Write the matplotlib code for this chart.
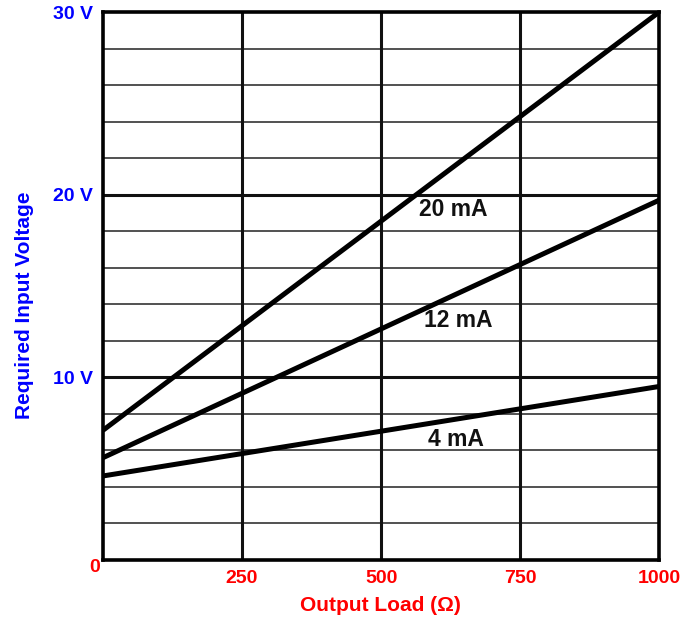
import numpy as np
import matplotlib
matplotlib.use("Agg")
import matplotlib.pyplot as plt

# ── data ─────────────────────────────────────────────────────────────────────
load_ohm = [0, 1000]
v_20ma = [7.1, 30.0]
v_12ma = [5.6, 19.7]
v_4ma = [4.6, 9.5]

curve_labels = ["20 mA", "12 mA", "4 mA"]
label_pos = [(629, 19.2), (638, 13.1), (635, 6.6)]

x_ticks = [250, 500, 750, 1000]
y_ticks = [10, 20, 30]
y_tick_labels = ["10 V", "20 V", "30 V"]

# ── style ────────────────────────────────────────────────────────────────────
plt.rcParams["font.family"] = ["Liberation Sans", "DejaVu Sans"]
plt.rcParams["font.weight"] = "bold"
RED = "#ff0000"
BLUE = "#0000ff"
FS = 14

fig = plt.figure(figsize=(6.91, 6.22), dpi=100)
ax = fig.add_axes([0.149, 0.0997, 0.805, 0.881])

# grid: minor every 2 V, major every 10 V / 250 ohm
for v in range(2, 30, 2):
    major = v % 10 == 0
    ax.axhline(v, color="#111111" if major else "#333333",
               lw=2.2 if major else 1.2, zorder=1)
for x in x_ticks[:-1]:
    ax.axvline(x, color="#111111", lw=2.2, zorder=1)

for ys in (v_20ma, v_12ma, v_4ma):
    ax.plot(load_ohm, ys, color="black", lw=3.6, solid_capstyle="butt", zorder=3)

for text, (lx, ly) in zip(curve_labels, label_pos):
    ax.text(lx, ly, text, fontsize=16.5, fontweight="bold", ha="center", va="center",
            color="#111111", zorder=4)

ax.set_xlim(0, 1000)
ax.set_ylim(0, 30)
for s in ax.spines.values():
    s.set_linewidth(2.6)
    s.set_color("black")

ax.set_xticks(x_ticks)
ax.set_xticklabels([str(v) for v in x_ticks], color=RED, fontsize=FS, fontweight="bold")
ax.set_yticks(y_ticks)
ax.set_yticklabels(y_tick_labels, color=BLUE, fontsize=FS, fontweight="bold")
ax.tick_params(length=0, pad=7)
ax.tick_params(axis="x", pad=7)

ax.text(-0.006, -0.013, "0", transform=ax.transAxes, color=RED, fontsize=FS,
        fontweight="bold", ha="right", va="center")

ax.set_xlabel("Output Load (Ω)", color=RED, fontsize=15, fontweight="bold")
ax.xaxis.set_label_coords(0.498, -0.066)
ax.set_ylabel("Required Input Voltage", color=BLUE, fontsize=15, fontweight="bold")
ax.yaxis.set_label_coords(-0.124, 0.465)

fig.savefig("out.png", dpi=100)
